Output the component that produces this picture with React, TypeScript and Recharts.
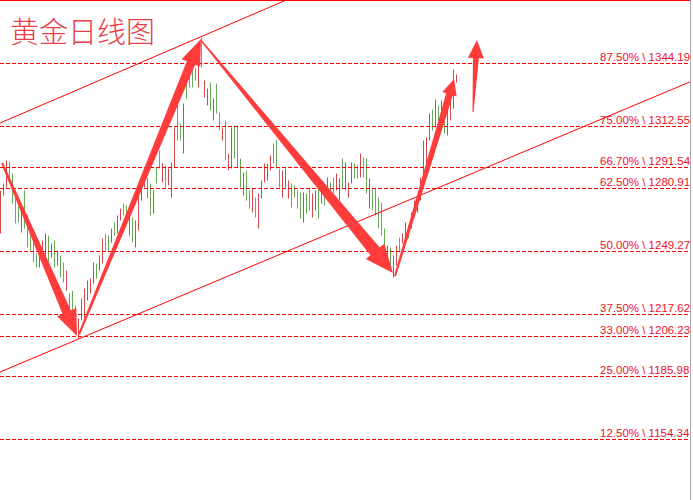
import React from 'react'
import { ComposedChart, Bar, Cell, XAxis, YAxis, ReferenceLine } from 'recharts'

// daily high / low per session
const highs = [
  1280.0, 1283.6, 1295.2, 1294.7, 1288.6, 1280.0, 1272.5, 1272.5, 1280.0, 1267.4,
  1257.3, 1256.3, 1248.2, 1251.3, 1254.8, 1258.3, 1257.3, 1253.3, 1254.8, 1249.7,
  1247.2, 1243.7, 1239.6, 1228.0, 1229.5, 1222.0, 1215.4, 1225.5, 1230.6, 1234.6,
  1235.6, 1243.7, 1243.2, 1247.2, 1255.8, 1258.3, 1257.3, 1260.9, 1263.9, 1267.4,
  1271.0, 1273.5, 1272.5, 1270.0, 1266.4, 1264.9, 1283.6, 1283.6, 1290.1, 1286.6,
  1283.6, 1280.0, 1291.7, 1300.2, 1293.7, 1292.7, 1291.2, 1294.2, 1311.9, 1325.5,
  1313.9, 1324.0, 1340.7, 1340.7, 1342.2, 1341.7, 1344.7, 1357.3, 1335.6, 1331.6,
  1334.6, 1326.5, 1334.1, 1319.4, 1311.9, 1315.4, 1298.7, 1311.9, 1312.9, 1312.9,
  1296.2, 1289.1, 1290.1, 1280.0, 1281.1, 1276.5, 1278.5, 1285.1, 1293.7, 1293.7,
  1297.7, 1303.8, 1305.8, 1291.2, 1290.1, 1291.2, 1285.1, 1283.6, 1282.6, 1280.0,
  1279.0, 1279.0, 1278.5, 1281.1, 1278.5, 1280.0, 1282.6, 1283.6, 1280.0, 1286.6,
  1284.1, 1286.6, 1288.6, 1286.1, 1296.2, 1294.2, 1284.1, 1294.2, 1293.7, 1292.7,
  1298.7, 1296.7, 1296.2, 1286.1, 1281.1, 1281.1, 1276.5, 1274.0, 1260.9, 1252.3,
  1251.3, 1247.2, 1252.3, 1256.3, 1258.3, 1263.9, 1262.4, 1268.9, 1275.0, 1277.5,
  1286.6, 1305.3, 1306.8, 1318.9, 1321.0, 1326.0, 1323.0, 1325.5, 1321.5, 1320.4,
  1327.0, 1341.2, 1338.6,
]
const lows = [
  1258.3, 1277.5, 1281.6, 1286.6, 1273.5, 1263.4, 1263.9, 1258.8, 1260.9, 1251.3,
  1249.7, 1243.7, 1241.2, 1241.2, 1247.2, 1244.7, 1238.1, 1246.2, 1241.2, 1242.2,
  1236.1, 1233.6, 1229.5, 1216.9, 1217.9, 1207.8, 1205.3, 1214.4, 1215.4, 1224.5,
  1228.0, 1233.1, 1235.6, 1239.6, 1243.2, 1249.7, 1248.7, 1253.8, 1257.3, 1258.3,
  1264.9, 1267.4, 1266.4, 1257.3, 1253.8, 1251.3, 1259.8, 1275.0, 1281.6, 1276.0,
  1267.4, 1268.4, 1283.6, 1291.2, 1284.1, 1281.6, 1282.6, 1276.5, 1291.7, 1305.3,
  1305.3, 1298.7, 1326.5, 1332.1, 1332.1, 1335.6, 1332.1, 1342.2, 1327.0, 1323.0,
  1320.4, 1315.4, 1318.9, 1310.3, 1305.3, 1295.2, 1290.1, 1291.2, 1296.2, 1291.7,
  1281.6, 1277.5, 1275.0, 1271.0, 1268.9, 1266.4, 1260.9, 1276.0, 1284.1, 1285.1,
  1290.1, 1293.7, 1291.2, 1281.6, 1276.5, 1281.6, 1276.0, 1271.5, 1276.5, 1271.0,
  1265.9, 1263.9, 1268.4, 1270.0, 1266.4, 1270.0, 1265.9, 1273.5, 1272.5, 1275.0,
  1276.5, 1278.5, 1280.0, 1275.0, 1281.1, 1280.0, 1276.5, 1283.6, 1286.1, 1286.1,
  1286.6, 1286.6, 1278.5, 1271.0, 1270.0, 1267.4, 1260.9, 1257.3, 1247.2, 1244.7,
  1242.2, 1236.1, 1242.2, 1248.7, 1253.3, 1253.8, 1255.8, 1260.9, 1266.4, 1268.9,
  1275.0, 1287.6, 1293.7, 1305.3, 1310.3, 1311.9, 1313.9, 1312.9, 1308.8, 1307.8,
  1315.4, 1321.5, 1334.6,
]
// r = red bar, g = green bar
const barColors = (
  'rrrggggrgg' + 'gggrrrgrgr' + 'ggrgggrrrr' + 'rrgrrggrgr' + 'rggrgrrrrg' +
  'grggrgrrrg' + 'grggggrgrr' + 'grggrgrrgg' + 'grggrgrrrr' + 'rgggrrrggg' +
  'grggrrgrgr' + 'ggrrgrrrgg' + 'rggrgggggr' + 'grrgrrgrrr' + 'rrrrgrgrgr' + 'rrr'
).split('')

const fibPercents = ['87.50%', '75.00%', '66.70%', '62.50%', '50.00%', '37.50%', '33.00%', '25.00%', '12.50%']
const fibPrices = [1344.19, 1312.55, 1291.54, 1280.91, 1249.27, 1217.62, 1206.23, 1185.98, 1154.34]

// channel lines, [bar index, price]
const upperChannel = [[-0.17, 1314.1], [95.2, 1376.2]]
const lowerChannel = [[-0.17, 1188.4], [229.8, 1334.9]]

// trend arrows: tail -> tip, [bar index, price]
const arrowTails = [[0.5, 1294.0], [26.2, 1207.6], [66.8, 1356.0], [131.5, 1236.9], [157.5, 1319.7]]
const arrowTips = [[25.5, 1206.6], [66.8, 1356.6], [130.8, 1238.4], [151.2, 1336.4], [158.8, 1356.0]]

const RED = '#ff0000'
const ARROW = '#ff3c3c'
const BAR_RED = '#d24848'
const BAR_GREEN = '#66ab55'

// tailW, shaftW, headW, headL
const arrowLooks = [
  [2, 9, 21, 26],
  [2, 9, 20, 26],
  [1.5, 12, 24, 28],
  [2, 7, 15, 16],
  [1, 6, 16, 18],
]

const data = highs.map((h, i) => ({ i, range: [lows[i], h], c: barColors[i] }))

function makeArrow(look: number[]) {
  const [tw, sw, hw, hl] = look
  return (p: any) => {
    const { x1, y1, x2, y2 } = p
    const len = Math.hypot(x2 - x1, y2 - y1) || 1
    const ux = (x2 - x1) / len
    const uy = (y2 - y1) / len
    const nx = -uy
    const ny = ux
    const bx = x2 - ux * hl
    const by = y2 - uy * hl
    const pts = [
      [x1 + (nx * tw) / 2, y1 + (ny * tw) / 2],
      [bx + (nx * sw) / 2, by + (ny * sw) / 2],
      [bx + (nx * hw) / 2, by + (ny * hw) / 2],
      [x2, y2],
      [bx - (nx * hw) / 2, by - (ny * hw) / 2],
      [bx - (nx * sw) / 2, by - (ny * sw) / 2],
      [x1 - (nx * tw) / 2, y1 - (ny * tw) / 2],
    ]
    return <polygon points={pts.map((q) => q.join(',')).join(' ')} fill={ARROW} />
  }
}

function fibShape(text: string) {
  return (p: any) => {
    const y = Math.floor(p.y1) + 0.5
    return (
      <g>
        <line
          x1={p.x1}
          y1={y}
          x2={p.x2}
          y2={y}
          stroke={RED}
          strokeWidth={1}
          strokeDasharray="4 2"
          shapeRendering="crispEdges"
        />
        <text
          x={600}
          y={y - 2.5}
          fill="#f0102a"
          fontSize={11.5}
          fontFamily="'Liberation Sans', Arial, sans-serif"
        >
          {text}
        </text>
      </g>
    )
  }
}

export default function App() {
  return (
    <div style={{ position: 'absolute', left: 0, top: 0, width: 693, height: 500, background: '#fff', overflow: 'hidden' }}>
      <div style={{ position: 'absolute', left: 0, top: 0, width: 690, height: 500, overflow: 'hidden' }}>
        <ComposedChart width={690} height={500} data={data} margin={{ top: 0, right: 0, bottom: 0, left: 0 }}>
          <XAxis type="number" dataKey="i" domain={[-1 / 6, 230 - 1 / 6]} allowDataOverflow hide />
          <YAxis type="number" domain={[1123.79, 1376.25]} allowDataOverflow hide />
          {fibPrices.map((price, k) => (
            <ReferenceLine
              key={price}
              y={price}
              stroke={RED}
              shape={fibShape(`${fibPercents[k]} \\ ${price.toFixed(2)}`)}
            />
          ))}
          <ReferenceLine
            segment={upperChannel.map(([x, y]) => ({ x, y }))}
            stroke={RED}
            strokeWidth={1}
            ifOverflow="visible"
          />
          <ReferenceLine
            segment={lowerChannel.map(([x, y]) => ({ x, y }))}
            stroke={RED}
            strokeWidth={1}
            ifOverflow="visible"
          />
          <Bar dataKey="range" barSize={1} isAnimationActive={false}>
            {data.map((d) => (
              <Cell key={d.i} fill={d.c === 'r' ? BAR_RED : BAR_GREEN} />
            ))}
          </Bar>
          {arrowTails.map((t, k) => (
            <ReferenceLine
              key={'a' + k}
              segment={[
                { x: t[0], y: t[1] },
                { x: arrowTips[k][0], y: arrowTips[k][1] },
              ]}
              ifOverflow="visible"
              shape={makeArrow(arrowLooks[k])}
            />
          ))}
        </ComposedChart>
      </div>
      <div style={{ position: 'absolute', left: 0, top: 0, width: 690, height: 1, background: RED }} />
      <div style={{ position: 'absolute', left: 690, top: 0, width: 1, height: 500, background: '#a8a8a8' }} />
      <div
        style={{
          position: 'absolute',
          left: 10,
          top: 15,
          fontSize: 29,
          lineHeight: '31px',
          color: '#e8404a',
          fontFamily: "'Noto Sans CJK SC', sans-serif",
          fontWeight: 300,
          whiteSpace: 'nowrap',
        }}
      >
        黄金日线图
      </div>
    </div>
  )
}
